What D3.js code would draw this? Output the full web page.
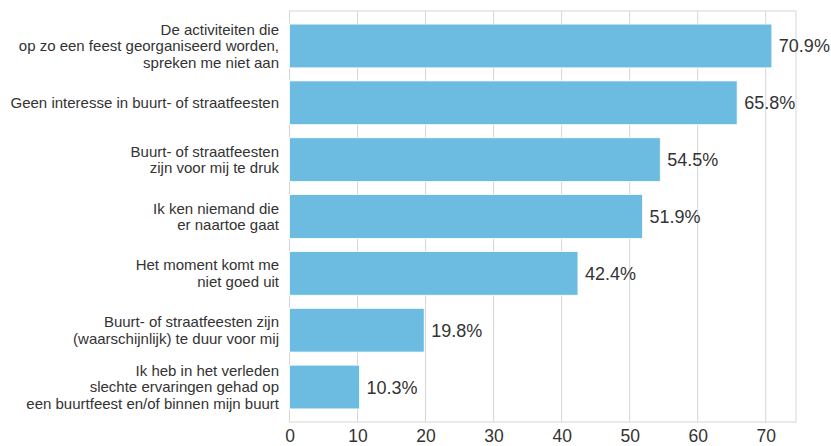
<!DOCTYPE html>
<html><head><meta charset="utf-8">
<script src="https://cdn.jsdelivr.net/npm/d3@7"></script>
<style>
body{margin:0;background:#fff;}
text{font-family:"Liberation Sans",Arial,Helvetica,sans-serif;}
</style></head>
<body>
<svg id="c" width="831" height="446"></svg>
<script>
const categories = [
  ["De activiteiten die","op zo een feest georganiseerd worden,","spreken me niet aan"],
  ["Geen interesse in buurt- of straatfeesten"],
  ["Buurt- of straatfeesten","zijn voor mij te druk"],
  ["Ik ken niemand die","er naartoe gaat"],
  ["Het moment komt me","niet goed uit"],
  ["Buurt- of straatfeesten zijn","(waarschijnlijk) te duur voor mij"],
  ["Ik heb in het verleden","slechte ervaringen gehad op","een buurtfeest en/of binnen mijn buurt"]
];
const values = [70.9, 65.8, 54.5, 51.9, 42.4, 19.8, 10.3];
const ticks = [0,10,20,30,40,50,60,70];

const m = {l:289.5, r:796, t:11, b:422};
const svg = d3.select("#c");
const x = d3.scaleLinear().domain([0, 74.45]).range([m.l, m.r]);
const y = d3.scaleBand().domain(d3.range(values.length)).range([m.t, m.b]).padding(0.23);

// gridlines
svg.append("g").selectAll("line").data(ticks).join("line")
  .attr("x1", d=>x(d)).attr("x2", d=>x(d)).attr("y1", m.t).attr("y2", m.b)
  .attr("stroke", "#d6d6d6").attr("stroke-width", 1);

// frame
svg.append("rect").attr("x", m.l).attr("y", m.t).attr("width", m.r-m.l).attr("height", m.b-m.t)
  .attr("fill","none").attr("stroke","#d6d6d6").attr("stroke-width",1);

// bars
svg.append("g").selectAll("rect").data(values).join("rect")
  .attr("x", x(0)).attr("y", (d,i)=>y(i))
  .attr("width", d=>x(d)-x(0)).attr("height", y.bandwidth())
  .attr("fill", "#6bbce0").attr("stroke","#ffffff").attr("stroke-width",0.8);

// value labels
svg.append("g").selectAll("text").data(values).join("text")
  .attr("x", d=>x(d)+7).attr("y", (d,i)=>y(i)+y.bandwidth()/2)
  .attr("dy","0.36em").attr("font-size", 18).attr("fill","#333")
  .text(d=>d.toFixed(1)+"%");

// category labels
const cl = svg.append("g").selectAll("text").data(categories).join("text")
  .attr("text-anchor","end").attr("font-size",15).attr("fill","#333");
cl.each(function(lines,i){
  const t = d3.select(this);
  const cy = y(i)+y.bandwidth()/2;
  const lh = 16.8;
  lines.forEach((ln,j)=>{
    t.append("tspan").attr("x", 279)
      .attr("y", cy + (j-(lines.length-1)/2)*lh)
      .attr("dy","0.36em").text(ln);
  });
});

// x axis tick labels
const ax = d3.axisBottom(x).tickValues(ticks).tickSize(0).tickPadding(8).tickFormat(d3.format("d"));
const g = svg.append("g").attr("transform",`translate(0,${m.b})`).call(ax);
g.select(".domain").remove();
g.selectAll("text").attr("font-size",17.5).attr("fill","#333")
  .style("font-family",'"Liberation Sans",Arial,sans-serif');
</script>
</body></html>
